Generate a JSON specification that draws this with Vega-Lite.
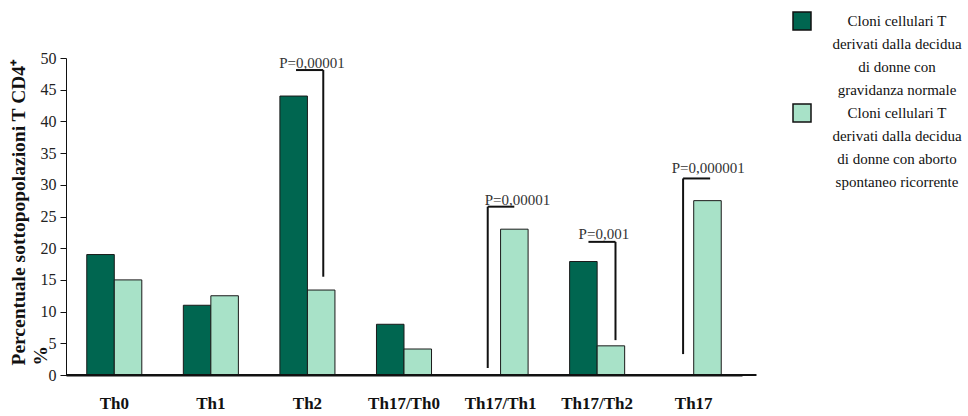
{
  "$schema": "https://vega.github.io/schema/vega-lite/v6.json",
  "width": 676,
  "height": 317,
  "autosize": {"type": "none"},
  "padding": {"left": 66, "top": 58, "right": 226, "bottom": 41},
  "background": "white",
  "config": {
    "font": "Liberation Serif",
    "view": {"stroke": null},
    "axisY": {
      "grid": false,
      "labelFontSize": 16, "labelColor": "#222", "labelPadding": 4,
      "tickSize": 6, "tickColor": "#111", "domainColor": "#111",
      "titleFontSize": 19.5, "titleFontWeight": "bold", "titleColor": "#111",
      "titleAngle": 270, "titleAlign": "left", "titleBaseline": "top",
      "titleLineHeight": 22, "titleX": -57, "titleY": 307
    }
  },
  "resolve": {"scale": {"x": "independent"}},
  "layer": [
    {
      "data": {
        "values": [
          {"categoria": "Th0", "gruppo": "Cloni cellulari T|derivati dalla decidua|di donne con|gravidanza normale", "valore": 19},
          {"categoria": "Th0", "gruppo": "Cloni cellulari T|derivati dalla decidua|di donne con aborto|spontaneo ricorrente", "valore": 15},
          {"categoria": "Th1", "gruppo": "Cloni cellulari T|derivati dalla decidua|di donne con|gravidanza normale", "valore": 11},
          {"categoria": "Th1", "gruppo": "Cloni cellulari T|derivati dalla decidua|di donne con aborto|spontaneo ricorrente", "valore": 12.5},
          {"categoria": "Th2", "gruppo": "Cloni cellulari T|derivati dalla decidua|di donne con|gravidanza normale", "valore": 44},
          {"categoria": "Th2", "gruppo": "Cloni cellulari T|derivati dalla decidua|di donne con aborto|spontaneo ricorrente", "valore": 13.4},
          {"categoria": "Th17/Th0", "gruppo": "Cloni cellulari T|derivati dalla decidua|di donne con|gravidanza normale", "valore": 8},
          {"categoria": "Th17/Th0", "gruppo": "Cloni cellulari T|derivati dalla decidua|di donne con aborto|spontaneo ricorrente", "valore": 4.1},
          {"categoria": "Th17/Th1", "gruppo": "Cloni cellulari T|derivati dalla decidua|di donne con|gravidanza normale", "valore": 0},
          {"categoria": "Th17/Th1", "gruppo": "Cloni cellulari T|derivati dalla decidua|di donne con aborto|spontaneo ricorrente", "valore": 23},
          {"categoria": "Th17/Th2", "gruppo": "Cloni cellulari T|derivati dalla decidua|di donne con|gravidanza normale", "valore": 17.9},
          {"categoria": "Th17/Th2", "gruppo": "Cloni cellulari T|derivati dalla decidua|di donne con aborto|spontaneo ricorrente", "valore": 4.6},
          {"categoria": "Th17", "gruppo": "Cloni cellulari T|derivati dalla decidua|di donne con|gravidanza normale", "valore": 0},
          {"categoria": "Th17", "gruppo": "Cloni cellulari T|derivati dalla decidua|di donne con aborto|spontaneo ricorrente", "valore": 27.5}
        ]
      },
      "mark": {"type": "bar", "stroke": "#1a1a1a", "strokeWidth": 1},
      "encoding": {
        "x": {
          "field": "categoria", "type": "nominal",
          "sort": ["Th0", "Th1", "Th2", "Th17/Th0", "Th17/Th1", "Th17/Th2", "Th17"],
          "scale": {"paddingInner": 0.43, "paddingOuter": 0.215},
          "axis": {"title": null, "labelAngle": 0, "labelFontWeight": "bold", "labelFontSize": 17, "labelColor": "#111", "labelPadding": 20, "ticks": false, "domainColor": "#111", "domainWidth": 2}
        },
        "xOffset": {
          "field": "gruppo", "type": "nominal",
          "sort": ["Cloni cellulari T|derivati dalla decidua|di donne con|gravidanza normale", "Cloni cellulari T|derivati dalla decidua|di donne con aborto|spontaneo ricorrente"]
        },
        "y": {
          "field": "valore", "type": "quantitative",
          "scale": {"domain": [0, 50], "nice": false},
          "axis": {"values": [0, 5, 10, 15, 20, 25, 30, 35, 40, 45, 50], "title": ["Percentuale sottopopolazioni T CD4⁺", "%"]}
        },
        "color": {
          "field": "gruppo", "type": "nominal",
          "scale": {
            "domain": ["Cloni cellulari T|derivati dalla decidua|di donne con|gravidanza normale", "Cloni cellulari T|derivati dalla decidua|di donne con aborto|spontaneo ricorrente"],
            "range": ["#006650", "#a8e2c8"]
          },
          "legend": {
            "orient": "none", "legendX": 726, "legendY": -47,
            "title": null,
            "symbolType": "square", "symbolSize": 324,
            "symbolStrokeColor": "#111", "symbolStrokeWidth": 1.5,
            "labelFontSize": 15, "labelColor": "#111",
            "labelAlign": "center", "labelOffset": 85, "labelLimit": 300,
            "labelExpr": "split(datum.label, '|')",
            "rowPadding": 3,
            "encode": {"labels": {"update": {"lineHeight": {"value": 23}}}}
          }
        }
      }
    },
    {
      "data": {
        "values": [
          {"x": 2.382, "x2": 2.664, "valore": 48.1, "valore2": 48.1},
          {"x": 2.664, "x2": 2.664, "valore": 48.1, "valore2": 15.5},
          {"x": 4.367, "x2": 4.642, "valore": 26.55, "valore2": 26.55},
          {"x": 4.367, "x2": 4.367, "valore": 26.55, "valore2": 1.1},
          {"x": 5.41, "x2": 5.69, "valore": 21.0, "valore2": 21.0},
          {"x": 5.69, "x2": 5.69, "valore": 21.0, "valore2": 5.5},
          {"x": 6.39, "x2": 6.67, "valore": 31.0, "valore2": 31.0},
          {"x": 6.39, "x2": 6.39, "valore": 31.0, "valore2": 3.3},
          {"x": 0, "x2": 7.15, "valore": 0, "valore2": 0}
        ]
      },
      "mark": {"type": "rule", "color": "#111", "strokeWidth": 2},
      "encoding": {
        "x": {"field": "x", "type": "quantitative", "scale": {"domain": [0, 7], "nice": false, "zero": false}, "axis": null},
        "x2": {"field": "x2"},
        "y": {
          "field": "valore", "type": "quantitative",
          "axis": {"values": [0, 5, 10, 15, 20, 25, 30, 35, 40, 45, 50], "title": ["Percentuale sottopopolazioni T CD4⁺", "%"]}
        },
        "y2": {"field": "valore2"}
      }
    },
    {
      "data": {
        "values": [
          {"pos": 2.547, "valore": 48.4, "testo": "P=0,00001"},
          {"pos": 4.675, "valore": 26.8, "testo": "P=0,00001"},
          {"pos": 5.57, "valore": 21.4, "testo": "P=0,001"},
          {"pos": 6.651, "valore": 31.9, "testo": "P=0,000001"}
        ]
      },
      "mark": {"type": "text", "align": "center", "baseline": "alphabetic", "fontSize": 15, "color": "#333"},
      "encoding": {
        "x": {"field": "pos", "type": "quantitative", "scale": {"domain": [0, 7], "nice": false, "zero": false}, "axis": null},
        "y": {
          "field": "valore", "type": "quantitative",
          "axis": {"values": [0, 5, 10, 15, 20, 25, 30, 35, 40, 45, 50], "title": ["Percentuale sottopopolazioni T CD4⁺", "%"]}
        },
        "text": {"field": "testo"}
      }
    }
  ]
}
